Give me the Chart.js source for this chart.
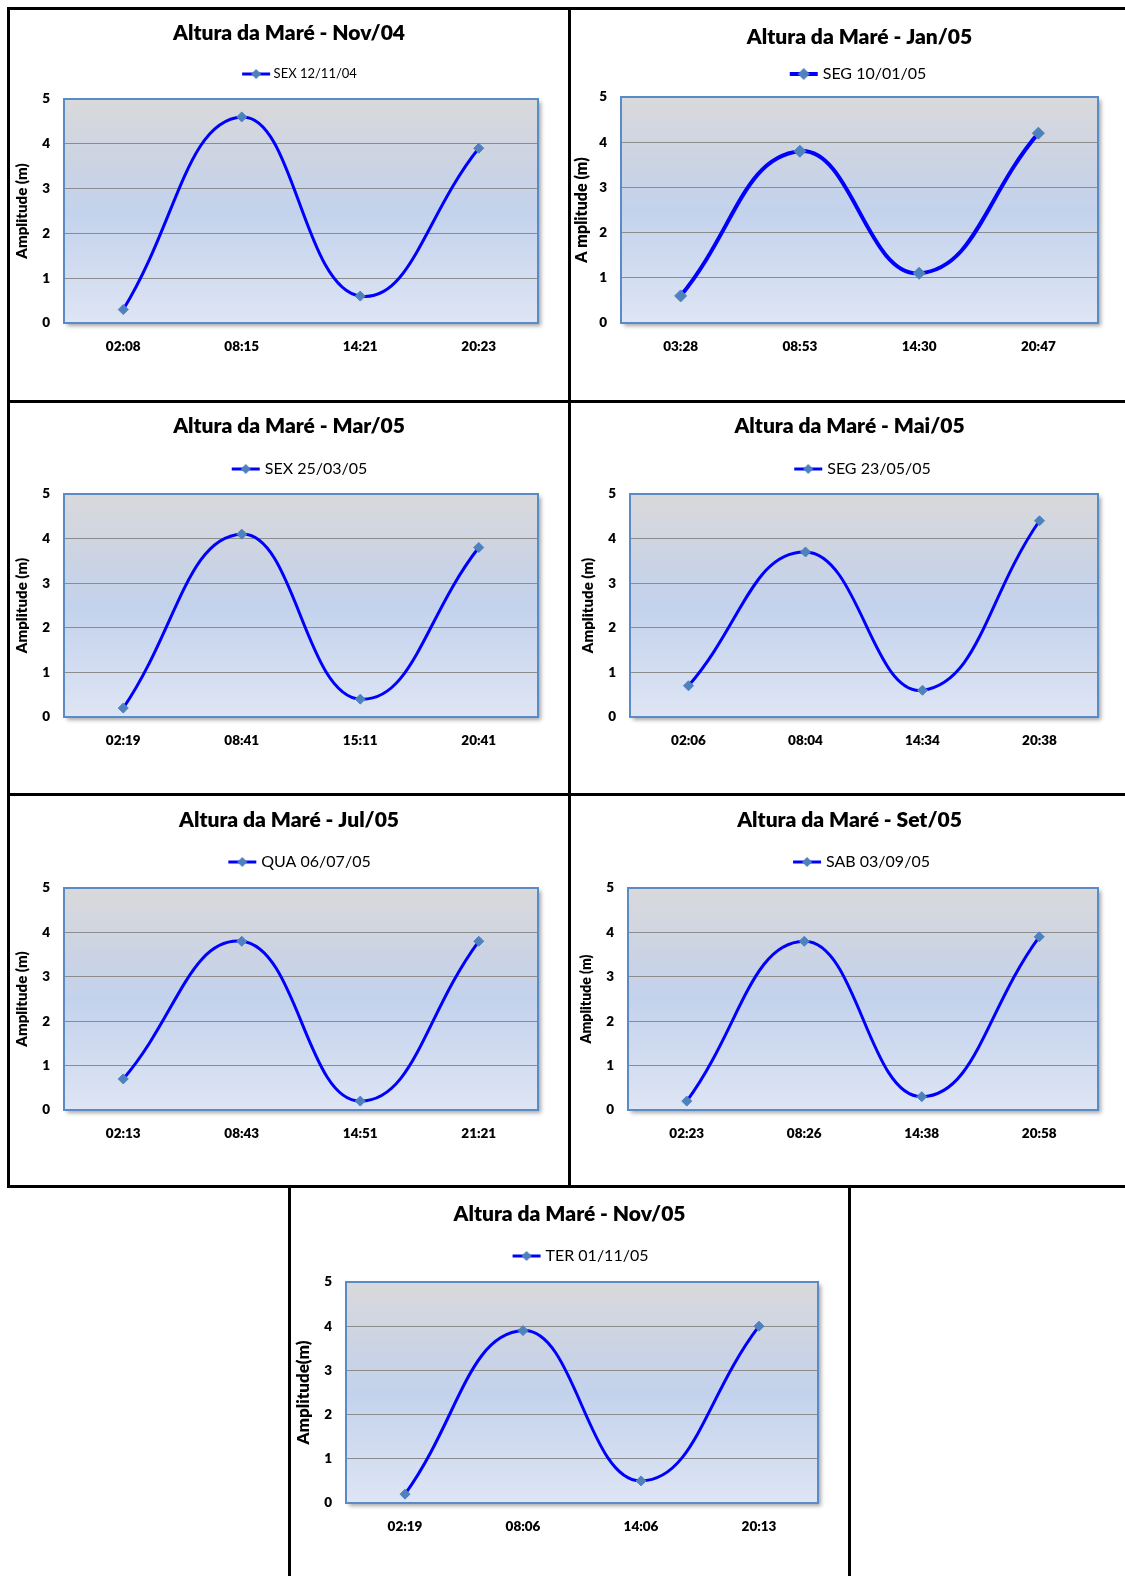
<!DOCTYPE html>
<html>
<head>
<meta charset="utf-8">
<script src="https://cdn.jsdelivr.net/npm/chart.js@4.4.1/dist/chart.umd.min.js"></script>
<style>
  html, body { margin: 0; padding: 0; background: #fff; }
  body { width: 1125px; height: 1576px; position: relative; overflow: hidden; }
  .rule { position: absolute; background: #000; }
  canvas { position: absolute; }
</style>
</head>
<body>
<!-- frame lines -->
<div class="rule" style="left:7px;top:7px;width:1118px;height:3px"></div>
<div class="rule" style="left:7px;top:7px;width:3px;height:1181px"></div>
<div class="rule" style="left:568px;top:7px;width:3px;height:1181px"></div>
<div class="rule" style="left:7px;top:400px;width:1118px;height:3px"></div>
<div class="rule" style="left:7px;top:793px;width:1118px;height:3px"></div>
<div class="rule" style="left:7px;top:1185px;width:1118px;height:3px"></div>
<div class="rule" style="left:288px;top:1185px;width:3px;height:391px"></div>
<div class="rule" style="left:848px;top:1185px;width:3px;height:391px"></div>

<canvas id="c1"></canvas>
<canvas id="c2"></canvas>
<canvas id="c3"></canvas>
<canvas id="c4"></canvas>
<canvas id="c5"></canvas>
<canvas id="c6"></canvas>
<canvas id="c7"></canvas>

<script>
// ── Data ──────────────────────────────────────────────────────
const titles = [
  'Altura da Maré - Nov/04', 'Altura da Maré - Jan/05', 'Altura da Maré - Mar/05',
  'Altura da Maré - Mai/05', 'Altura da Maré - Jul/05', 'Altura da Maré - Set/05',
  'Altura da Maré - Nov/05'
];
const seriesNames = [
  'SEX 12/11/04', 'SEG 10/01/05', 'SEX 25/03/05', 'SEG 23/05/05',
  'QUA 06/07/05', 'SAB 03/09/05', 'TER 01/11/05'
];
const axisTitles = [
  'Amplitude (m)', 'A mplitude (m)', 'Amplitude (m)', 'Amplitude (m)',
  'Amplitude (m)', 'Amplitude (m)', 'Amplitude(m)'
];

const timesNov04 = ['02:08', '08:15', '14:21', '20:23'];
const tideNov04  = [0.3, 4.6, 0.6, 3.9];
const timesJan05 = ['03:28', '08:53', '14:30', '20:47'];
const tideJan05  = [0.6, 3.8, 1.1, 4.2];
const timesMar05 = ['02:19', '08:41', '15:11', '20:41'];
const tideMar05  = [0.2, 4.1, 0.4, 3.8];
const timesMai05 = ['02:06', '08:04', '14:34', '20:38'];
const tideMai05  = [0.7, 3.7, 0.6, 4.4];
const timesJul05 = ['02:13', '08:43', '14:51', '21:21'];
const tideJul05  = [0.7, 3.8, 0.2, 3.8];
const timesSet05 = ['02:23', '08:26', '14:38', '20:58'];
const tideSet05  = [0.2, 3.8, 0.3, 3.9];
const timesNov05 = ['02:19', '08:06', '14:06', '20:13'];
const tideNov05  = [0.2, 3.9, 0.5, 4.0];

const yMin = 0, yMax = 5, yStep = 1;

const timeSets = [timesNov04, timesJan05, timesMar05, timesMai05, timesJul05, timesSet05, timesNov05];
const tideSets = [tideNov04, tideJan05, tideMar05, tideMai05, tideJul05, tideSet05, tideNov05];

// ── Layout (page pixels) ──────────────────────────────────────
const panels = [
  { id: 'c1', cell: [10, 10, 568, 400],    plot: [64, 99, 538, 323],    titleY: 33,   legendY: 74,   tickY: 347,  yTitleX: 22,  legendFs: 13, yTitleFs: 15, lineW: 3, pointR: 5 },
  { id: 'c2', cell: [571, 10, 1148, 400],  plot: [621, 97, 1098, 323],  titleY: 37,   legendY: 74,   tickY: 347,  yTitleX: 582, legendFs: 16, yTitleFs: 16, lineW: 4, pointR: 6 },
  { id: 'c3', cell: [10, 403, 568, 793],   plot: [64, 494, 538, 717],   titleY: 426,  legendY: 469,  tickY: 741,  yTitleX: 22,  legendFs: 16, yTitleFs: 15, lineW: 3, pointR: 5 },
  { id: 'c4', cell: [571, 403, 1128, 793], plot: [630, 494, 1098, 717], titleY: 426,  legendY: 469,  tickY: 741,  yTitleX: 588, legendFs: 16, yTitleFs: 15, lineW: 3, pointR: 5 },
  { id: 'c5', cell: [10, 796, 568, 1185],  plot: [64, 888, 538, 1110],  titleY: 820,  legendY: 862,  tickY: 1134, yTitleX: 22,  legendFs: 16, yTitleFs: 15, lineW: 3, pointR: 5 },
  { id: 'c6', cell: [571, 796, 1128, 1185],plot: [628, 888, 1098, 1110],titleY: 820,  legendY: 862,  tickY: 1134, yTitleX: 586, legendFs: 16, yTitleFs: 14, lineW: 3, pointR: 5 },
  { id: 'c7', cell: [291, 1188, 848, 1576],plot: [346, 1282, 818, 1503],titleY: 1214, legendY: 1256, tickY: 1527, yTitleX: 304, legendFs: 16, yTitleFs: 17, lineW: 3, pointR: 5 }
];

const TITLE_FS = 21;
const TICK_FS  = 13.5;
const HEAVY    = 800;
const LINE_COLOR   = '#0000ff';
const MARKER_COLOR = '#4f81bd';

Chart.defaults.font.family = 'Lato';
Chart.defaults.color = '#000';

// ── Plot area background + frame ──────────────────────────────
const plotBackground = {
  id: 'plotBackground',
  beforeDraw(chart) {
    const { ctx, chartArea: { left, top, right, bottom } } = chart;
    const g = ctx.createLinearGradient(0, top, 0, bottom);
    g.addColorStop(0,    '#d9d9db');
    g.addColorStop(0.25, '#cdd4e2');
    g.addColorStop(0.5,  '#c3d2ec');
    g.addColorStop(1,    '#dee5f4');
    ctx.save();
    ctx.shadowColor   = 'rgba(0,0,0,0.35)';
    ctx.shadowBlur    = 4;
    ctx.shadowOffsetX = 3;
    ctx.shadowOffsetY = 3;
    ctx.fillStyle = g;
    ctx.fillRect(left, top, right - left, bottom - top);
    ctx.restore();
  },
  beforeDatasetsDraw(chart) {
    const { ctx, chartArea: { left, top, right, bottom } } = chart;
    ctx.save();
    ctx.strokeStyle = '#5b8bc6';
    ctx.lineWidth = 2;
    ctx.strokeRect(left, top, right - left, bottom - top);
    ctx.restore();
  }
};

// legend sample: short line with diamond marker
const legendSwatch = (p) => {
  const c = document.createElement('canvas');
  c.width = 30; c.height = 14;
  const x = c.getContext('2d');
  x.strokeStyle = LINE_COLOR;
  x.lineWidth = p.lineW;
  x.beginPath(); x.moveTo(1, 7); x.lineTo(29, 7); x.stroke();
  x.fillStyle = MARKER_COLOR;
  const r = p.pointR;
  x.beginPath(); x.moveTo(15, 7 - r); x.lineTo(15 + r, 7); x.lineTo(15, 7 + r); x.lineTo(15 - r, 7); x.closePath(); x.fill();
  return c;
};

// ── Build one panel ───────────────────────────────────────────
const buildPanel = (i) => {
  const p = panels[i];
  const [cl, ct, cr, cb] = p.cell;
  const [pl, pt, pr, pb] = p.plot;
  const cv = document.getElementById(p.id);
  cv.width  = cr - cl;
  cv.height = cb - ct;
  cv.style.left = cl + 'px';
  cv.style.top  = ct + 'px';

  const titleLh     = TITLE_FS * 1.2;
  const titlePadTop = p.titleY - ct - titleLh / 2;
  const legendTop   = p.titleY + titleLh / 2;
  const legendH     = pt - legendTop;
  const legendPad   = p.legendY - legendTop - p.legendFs / 2;
  const swatch      = legendSwatch(p);

  const legendHeight = {
    id: 'legendHeight',
    beforeInit(chart) {
      const fit = chart.legend.fit;
      chart.legend.fit = function () {
        fit.call(this);
        this.height = legendH;
      };
    }
  };

  new Chart(cv, {
    type: 'line',
    data: {
      labels: timeSets[i],
      datasets: [{
        label: seriesNames[i],
        data: tideSets[i],
        borderColor: LINE_COLOR,
        borderWidth: p.lineW,
        tension: 0.45,
        pointStyle: 'rectRot',
        pointRadius: p.pointR,
        pointBackgroundColor: MARKER_COLOR,
        pointBorderColor: MARKER_COLOR,
        pointBorderWidth: 1
      }]
    },
    options: {
      responsive: false,
      animation: false,
      devicePixelRatio: 1,
      layout: { padding: 0 },
      plugins: {
        title: {
          display: true,
          text: titles[i],
          color: '#000',
          font: { size: TITLE_FS, weight: HEAVY },
          padding: { top: titlePadTop, bottom: 0 }
        },
        legend: {
          fullSize: false,
          labels: {
            color: '#000',
            font: { size: p.legendFs },
            usePointStyle: true,
            pointStyleWidth: 22,
            padding: legendPad,
            generateLabels: (chart) => [{
              text: chart.data.datasets[0].label,
              pointStyle: swatch,
              fillStyle: MARKER_COLOR,
              strokeStyle: LINE_COLOR,
              lineWidth: 0,
              datasetIndex: 0,
              hidden: false
            }]
          }
        },
        tooltip: { enabled: false }
      },
      scales: {
        x: {
          offset: true,
          grid: { display: false, drawTicks: false },
          border: { display: false },
          ticks: {
            color: '#000',
            font: { size: TICK_FS, weight: HEAVY },
            padding: p.tickY - pb - TICK_FS * 0.6,
            maxRotation: 0
          },
          afterFit: (s) => { s.height = cb - pb; }
        },
        y: {
          min: yMin,
          max: yMax,
          ticks: {
            stepSize: yStep,
            color: '#000',
            font: { size: TICK_FS, weight: HEAVY },
            padding: 14
          },
          grid: { color: '#8c8c8c', lineWidth: 1, drawTicks: false },
          border: { display: false },
          title: {
            display: true,
            text: axisTitles[i],
            color: '#000',
            font: { size: p.yTitleFs, weight: HEAVY },
            padding: { top: p.yTitleX - cl - p.yTitleFs * 0.6, bottom: 0 }
          },
          afterFit: (s) => { s.width = pl - cl; }
        },
        // empty right-hand margin, keeps the title centred on the whole panel
        yRight: {
          position: 'right',
          grid: { display: false, drawTicks: false },
          border: { display: false },
          ticks: { display: false },
          afterFit: (s) => { s.width = cr - pr; }
        }
      }
    },
    plugins: [plotBackground, legendHeight]
  });
};

// ── Init ──────────────────────────────────────────────────────
panels.forEach((_, i) => buildPanel(i));
</script>
</body>
</html>
